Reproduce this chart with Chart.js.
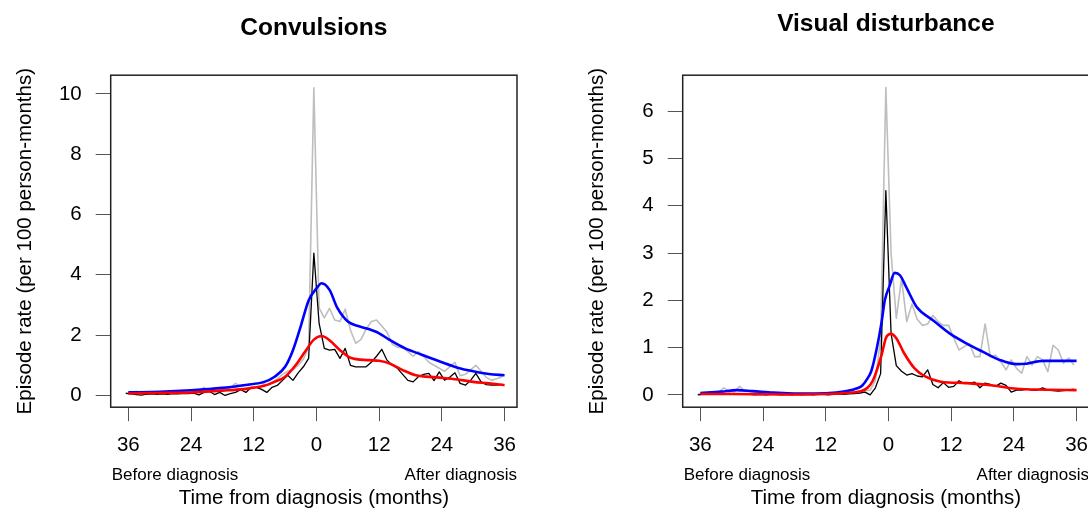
<!DOCTYPE html>
<html><head><meta charset="utf-8">
<script src="https://cdn.jsdelivr.net/npm/chart.js@4.4.0/dist/chart.umd.min.js"></script>
<style>
html,body{margin:0;padding:0;background:#fff;overflow:hidden;width:1088px;height:508px;position:relative;}
canvas{position:absolute;top:0;}
#c1{left:0}
#c2{left:572px}
</style></head><body>
<canvas id="c1" width="570" height="508"></canvas>
<canvas id="c2" width="570" height="508"></canvas>
<script>
// ---------- data ----------
const titles = ["Convulsions", "Visual disturbance"];
const xTicks = [-36, -24, -12, 0, 12, 24, 36];
const convYTicks = [0, 2, 4, 6, 8, 10];
const visYTicks = [0, 1, 2, 3, 4, 5, 6];

const monthsRaw = [-36.5,-35.5,-34.5,-33.5,-32.5,-31.5,-30.5,-29.5,-28.5,-27.5,
  -26.5,-25.5,-24.5,-23.5,-22.5,-21.5,-20.5,-19.5,-18.5,-17.5,
  -16.5,-15.5,-14.5,-13.5,-12.5,-11.5,-10.5,-9.5,-8.5,-7.5,
  -6.5,-5.5,-4.5,-3.5,-2.5,-1.5,-0.5,0.5,1.5,2.5,
  3.5,4.5,5.5,6.5,7.5,8.5,9.5,10.5,11.5,12.5,
  13.5,14.5,15.5,16.5,17.5,18.5,19.5,20.5,21.5,22.5,
  23.5,24.5,25.5,26.5,27.5,28.5,29.5,30.5,31.5,32.5,
  33.5,34.5,35.5];

const convGrey = [0.07,0.10,0.14,0.08,0.10,0.10,0.12,0.10,0.12,0.14,
  0.12,0.15,0.14,0.18,0.15,0.27,0.10,0.17,0.18,0.20,
  0.25,0.40,0.30,0.35,0.38,0.42,0.40,0.35,0.45,0.55,
  0.70,0.80,0.85,1.00,1.20,1.60,10.2,2.90,
  2.57,2.89,2.50,2.45,2.86,2.17,1.73,1.85,2.20,2.45,
  2.50,2.30,2.10,1.70,1.60,1.58,1.45,1.30,1.45,1.30,
  1.10,1.00,0.90,0.80,0.95,1.10,0.65,0.70,0.85,1.00,
  0.80,0.60,0.50,0.55,0.62];
const convBlack = [0.07,0.05,0.03,0.01,0.04,0.05,0.04,0.05,0.04,0.06,
  0.05,0.07,0.06,0.08,0.02,0.10,0.14,0.03,0.10,0.00,
  0.06,0.10,0.19,0.10,0.27,0.27,0.20,0.10,0.27,0.33,
  0.50,0.67,0.50,0.75,0.95,1.23,4.72,2.40,
  1.56,1.50,1.53,1.23,1.56,1.00,0.95,0.95,0.95,1.10,
  1.30,1.53,1.17,1.00,0.90,0.70,0.50,0.45,0.62,0.70,
  0.73,0.49,0.78,0.51,0.60,0.75,0.40,0.34,0.50,0.73,
  0.45,0.36,0.34,0.34,0.36];
const convBlueX = [-36,-30,-24,-18,-14,-10,-8,-6,-4.5,-3,-1.5,0,1,2.5,4,6,8,10,12,14,17,20,24,27,30,33,36];
const convBlueY = [0.10,0.12,0.17,0.25,0.34,0.45,0.62,0.95,1.5,2.3,3.15,3.55,3.72,3.5,2.9,2.45,2.3,2.2,2.06,1.84,1.56,1.36,1.1,0.92,0.8,0.71,0.67];
const convRedX = [-36,-30,-24,-18,-14,-10,-8,-6,-4,-2,-0.5,1,2.5,4.5,6.5,10,12,14,16.5,19,23,27,30,33,36];
const convRedY = [0.066,0.08,0.10,0.16,0.21,0.32,0.45,0.62,1.0,1.5,1.85,1.97,1.83,1.5,1.25,1.17,1.15,1.06,0.84,0.67,0.6,0.53,0.45,0.4,0.34];

const visGrey = [0.02,0.03,0.05,0.04,0.06,0.15,0.08,0.06,0.18,0.08,
  0.07,0.06,0.05,0.05,0.04,0.04,0.03,0.03,0.02,0.02,
  0.02,0.02,0.02,0.02,0.02,0.03,0.03,0.04,0.04,0.05,
  0.06,0.08,0.09,0.10,0.30,1.20,6.50,3.00,
  1.62,2.46,1.55,1.92,1.60,1.47,1.50,1.68,1.55,1.47,
  1.47,1.20,0.95,1.02,1.09,0.81,0.81,1.50,0.81,0.84,
  0.70,0.53,0.74,0.56,0.46,0.81,0.63,0.81,0.74,0.49,
  1.05,0.95,0.67,0.78,0.63];
const visBlack = [0.00,0.01,0.01,0.02,0.01,0.02,0.03,0.02,0.01,0.02,
  0.01,0.00,0.01,0.00,0.01,0.01,0.00,0.01,0.00,0.01,
  0.00,0.01,0.00,0.01,0.01,0.00,0.01,0.02,0.01,0.02,
  0.03,0.04,0.06,0.00,0.15,0.45,4.32,1.30,
  0.62,0.50,0.42,0.45,0.40,0.38,0.53,0.22,0.15,0.26,
  0.16,0.18,0.30,0.24,0.25,0.27,0.15,0.25,0.22,0.18,
  0.25,0.20,0.06,0.10,0.10,0.12,0.10,0.10,0.15,0.10,
  0.09,0.08,0.09,0.10,0.12];
const visBlueX = [-36,-32,-29,-26,-22,-18,-14,-10,-8,-6,-5,-4,-3.3,-2.3,-1.3,-0.7,0.2,1.2,2.2,3.4,5.4,8.5,11.7,14.9,18.1,21.3,24.5,26.4,29.6,33,36];
const visBlueY = [0.04,0.07,0.1,0.08,0.05,0.03,0.03,0.05,0.08,0.14,0.2,0.35,0.5,0.95,1.55,2.0,2.3,2.58,2.53,2.28,1.86,1.58,1.3,1.09,0.91,0.74,0.65,0.66,0.72,0.72,0.72];
const visRedX = [-36,-30,-20,-12,-8,-5.5,-4,-3,-2.3,-1.3,-0.5,0.5,1.5,3,5,7,10,15,20,24.5,30,36];
const visRedY = [0.02,0.02,0.01,0.02,0.04,0.07,0.15,0.3,0.5,0.85,1.2,1.29,1.2,0.88,0.56,0.39,0.28,0.25,0.2,0.13,0.11,0.1];

const yTitle = "Episode rate (per 100 person-months)";
const xTitle = "Time from diagnosis (months)";
const beforeLabel = "Before diagnosis";
const afterLabel = "After diagnosis";

// ---------- drawing ----------
const FONT = '"Liberation Sans", Arial, Helvetica, sans-serif';
const CW = 570, CH = 508;
const AREA = {left: 110.7, right: 517, top: 75.2, bottom: 407.2};
const X_MIN = -39.38, X_MAX = 38.38;

const pts = (xs, ys) => xs.map((x, i) => ({x: x, y: ys[i]}));

const decor = {
  id: 'decor',
  afterDatasetsDraw(chart, args, opts) {
    const ctx = chart.ctx, a = chart.chartArea;
    ctx.save();
    ctx.strokeStyle = '#222';
    ctx.lineWidth = 1.5;
    ctx.strokeRect(a.left, a.top, a.right - a.left, a.bottom - a.top);
    ctx.fillStyle = '#000';
    ctx.textBaseline = 'alphabetic';
    ctx.font = 'bold 24.5px ' + FONT;
    ctx.textAlign = 'center';
    ctx.fillText(opts.title, (a.left + a.right) / 2, opts.titleY);
    ctx.font = '17px ' + FONT;
    ctx.textAlign = 'left';
    ctx.fillText(beforeLabel, a.left + 1, 480);
    ctx.textAlign = 'right';
    ctx.fillText(afterLabel, a.right, 480);
    ctx.restore();
  }
};

function build(id, title, titleY, grey, black, blueX, blueY, redX, redY, yMin, yMax, yTicks) {
  const ctx = document.getElementById(id).getContext('2d');
  return new Chart(ctx, {
    type: 'line',
    data: {
      datasets: [
        {data: pts(redX, redY), borderColor: '#FF0000', borderWidth: 2.6, cubicInterpolationMode: 'monotone', order: 0},
        {data: pts(blueX, blueY), borderColor: '#0000FF', borderWidth: 2.6, cubicInterpolationMode: 'monotone', order: 1},
        {data: pts(monthsRaw, black), borderColor: '#000000', borderWidth: 1.3, tension: 0, order: 2},
        {data: pts(monthsRaw, grey), borderColor: '#BEBEBE', borderWidth: 1.6, tension: 0, order: 3}
      ]
    },
    options: {
      responsive: false,
      maintainAspectRatio: false,
      animation: false,
      devicePixelRatio: 1,
      elements: {point: {radius: 0, hoverRadius: 0}, line: {fill: false, borderJoinStyle: 'round'}},
      layout: {padding: {left: 0, right: CW - AREA.right, top: AREA.top, bottom: 0}},
      plugins: {legend: {display: false}, tooltip: {enabled: false}, title: {display: false},
        decor: {title: title, titleY: titleY}},
      scales: {
        x: {
          type: 'linear', min: X_MIN, max: X_MAX,
          afterFit: s => { s.height = CH - AREA.bottom; },
          afterBuildTicks: s => { s.ticks = xTicks.map(v => ({value: v})); },
          border: {display: false},
          grid: {drawOnChartArea: false, drawTicks: true, tickLength: 14, color: '#555', lineWidth: 1},
          ticks: {callback: v => String(Math.abs(v)), color: '#000', font: {family: FONT, size: 20.5}, padding: 12, maxRotation: 0, autoSkip: false},
          title: {display: true, text: xTitle, color: '#000', font: {family: FONT, size: 20.5, lineHeight: 1}, padding: {top: 0, bottom: -1}}
        },
        y: {
          type: 'linear', min: yMin, max: yMax,
          afterFit: s => { s.width = AREA.left; },
          afterBuildTicks: s => { s.ticks = yTicks.map(v => ({value: v})); },
          border: {display: false},
          grid: {drawOnChartArea: false, drawTicks: true, tickLength: 15, color: '#555', lineWidth: 1},
          ticks: {color: '#000', font: {family: FONT, size: 20.5}, padding: 14, autoSkip: false},
          title: {display: true, text: yTitle, color: '#000', font: {family: FONT, size: 20.5, lineHeight: 1.2}, padding: {top: 13.5, bottom: 0}}
        }
      }
    },
    plugins: [decor]
  });
}

build('c1', titles[0], 35.3, convGrey, convBlack, convBlueX, convBlueY, convRedX, convRedY, -0.39, 10.62, convYTicks);
build('c2', titles[1], 31, visGrey, visBlack, visBlueX, visBlueY, visRedX, visRedY, -0.26, 6.76, visYTicks);
</script>
</body></html>
